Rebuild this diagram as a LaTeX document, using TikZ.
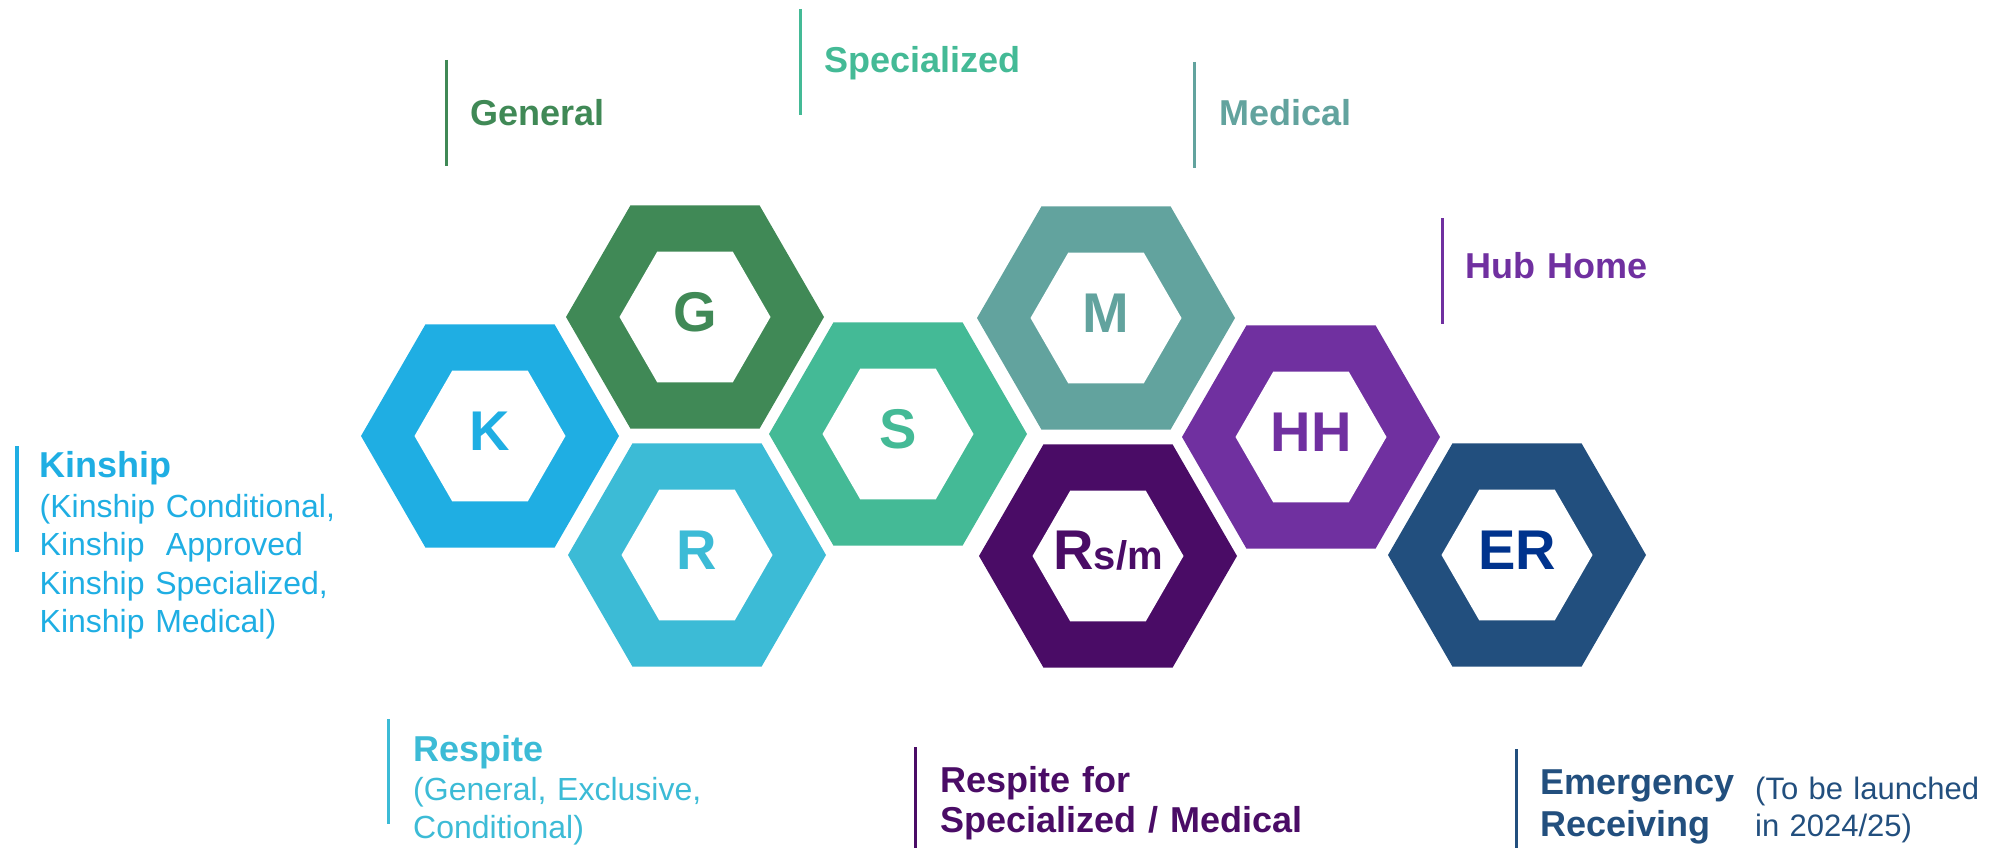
\documentclass[tikz,border=0pt]{standalone}
\usepackage{fontspec}
\setmainfont{Liberation Sans}

\definecolor{kinblue}{HTML}{1FAEE3}
\definecolor{gengreen}{HTML}{408956}
\definecolor{respcyan}{HTML}{3CBBD6}
\definecolor{specgreen}{HTML}{44BA96}
\definecolor{medteal}{HTML}{62A39E}
\definecolor{rsmpurple}{HTML}{4A0C66}
\definecolor{hubpurple}{HTML}{7030A0}
\definecolor{ernavy}{HTML}{224F7E}
\definecolor{erblue}{HTML}{00338D}

% hexagon ring round a named centre
\newcommand{\hexcell}[2]{%
  \fill[#2] (#1) ++(129,0) -- ++(120:129) -- ++(180:129) -- ++(240:129) -- ++(300:129) -- ++(0:129) -- cycle;
  \fill[white] (#1) ++(75.5,0) -- ++(120:75.5) -- ++(180:75.5) -- ++(240:75.5) -- ++(300:75.5) -- ++(0:75.5) -- cycle;
}

\begin{document}
\begin{tikzpicture}[x=1pt, y=-1pt,
    letter/.style={inner sep=0pt, yshift=5pt, font=\fontsize{56}{56}\selectfont\bfseries},
    head/.style={anchor=base west, inner sep=0pt, text width=420pt, align=left, font=\fontsize{36}{40}\selectfont\bfseries},
    sub/.style={anchor=base west, inner sep=0pt, text width=420pt, align=left, font=\fontsize{32}{38.3}\selectfont},
    bar/.style={line width=3.5pt}]
      \useasboundingbox (0,0) rectangle (1992,848);
      % centres
      \coordinate (K) at (490,436);
      \coordinate (G) at (695,317);
      \coordinate (R) at (697,555);
      \coordinate (S) at (898,434);
      \coordinate (M) at (1106,318);
      \coordinate (RSM) at (1108,556);
      \coordinate (HH) at (1311,437);
      \coordinate (ER) at (1517,555);
      % hexagons
      \hexcell{K}{kinblue}
      \hexcell{G}{gengreen}
      \hexcell{R}{respcyan}
      \hexcell{S}{specgreen}
      \hexcell{M}{medteal}
      \hexcell{RSM}{rsmpurple}
      \hexcell{HH}{hubpurple}
      \hexcell{ER}{ernavy}
      % letters
      \node[letter, kinblue] (K-txt) at (K) {K};
      \node[letter, gengreen] (G-txt) at (G) {G};
      \node[letter, respcyan] (R-txt) at (R) {R};
      \node[letter, specgreen] (S-txt) at (S) {S};
      \node[letter, medteal] (M-txt) at (M) {M};
      \node[letter, rsmpurple] (RSM-txt) at (RSM) {R{\fontsize{40}{40}\selectfont s/m}};
      \node[letter, hubpurple] (HH-txt) at (HH) {HH};
      \node[letter, erblue] (ER-txt) at (ER) {ER};
      % bars
      \draw[bar, gengreen] (446.5,60) -- (446.5,166);
      \draw[bar, specgreen] (800.5,9) -- (800.5,115);
      \draw[bar, medteal] (1194.5,62) -- (1194.5,168);
      \draw[bar, hubpurple] (1442.5,218) -- (1442.5,324);
      \draw[bar, kinblue] (17,446) -- (17,552);
      \draw[bar, respcyan] (388.5,719) -- (388.5,824);
      \draw[bar, rsmpurple] (915.5,747) -- (915.5,848);
      \draw[bar, ernavy] (1516.5,749) -- (1516.5,848);
      % labels
      \node[head, gengreen] (gen) at (470.5,126) {General};
      \node[head, specgreen] (spec) at (824.5,73) {Specialized};
      \node[head, medteal] (med) at (1219,126) {Medical};
      \node[head, hubpurple] (hub) at (1465.5,278) {Hub Home};
      \node[head, kinblue] (kin) at (39.5,477.5) {Kinship};
      \node[sub, kinblue] (kin-sub) at (39.5,517.5) {(Kinship Conditional,\\Kinship~ Approved\\Kinship Specialized,\\Kinship Medical)};
      \node[head, respcyan] (resp) at (413,761.5) {Respite};
      \node[sub, respcyan] (resp-sub) at (413,800) {(General, Exclusive,\\Conditional)};
      \node[head, rsmpurple] (rsm) at (940,792.5) {Respite for\\Specialized / Medical};
      \node[head, ernavy, font=\fontsize{36}{41.5}\selectfont\bfseries] (er) at (1540.5,794.5) {Emergency\\Receiving};
      \node[sub, ernavy, font=\fontsize{31}{37}\selectfont] (er-note) at (1755,799) {(To be launched\\in 2024/25)};
    \end{tikzpicture}
\end{document}
